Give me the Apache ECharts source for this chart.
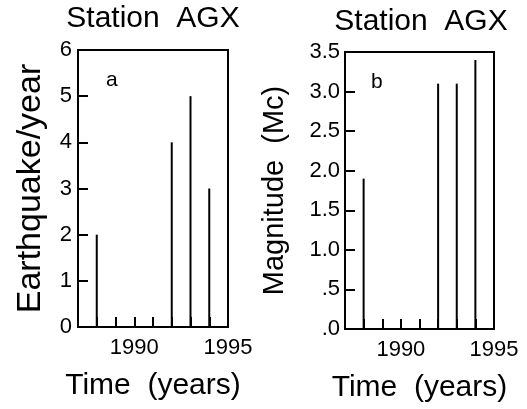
<!DOCTYPE html>
<html lang="en">
<head>
    <meta charset="UTF-8">
    <title>Station AGX</title>
    <script src="https://cdn.jsdelivr.net/npm/echarts@6/dist/echarts.min.js"></script>
    <style type="text/css">
        *{margin: 0;padding: 0;border: none}
        html,body{width: 100%;height: 100%;overflow: hidden;background: #fff}
        #main{width: 527px;height: 409px}
    </style>
</head>
<body>
<div id="main"></div>
<script type="text/javascript">
    // data
    var years = [1988, 1992, 1993, 1994];
    var quakesPerYear = [2, 4, 5, 3];
    var magnitudes = [1.9, 3.1, 3.1, 3.4];
    var yearLabels = [1990, 1995];
    var magLabels = ['.0', '.5', '1.0', '1.5', '2.0', '2.5', '3.0', '3.5'];

    var font = 'Liberation Sans';
    var ink = '#000';

    function pairs(xs, ys) {
        var out = [];
        for (var i = 0; i < xs.length; i++) out.push([xs[i], ys[i]]);
        return out;
    }

    function xAxisFor(gridIndex) {
        return {
            gridIndex: gridIndex,
            type: 'value',
            min: 1987,
            max: 1995,
            interval: 1,
            name: 'Time  (years)',
            nameLocation: 'middle',
            nameGap: 44,
            nameTextStyle: {fontFamily: font, fontSize: 30, color: ink},
            splitLine: {show: false},
            axisLine: {lineStyle: {color: ink, width: 2}},
            axisTick: {inside: true, length: 10, lineStyle: {color: ink, width: 2}},
            axisLabel: {
                margin: 10,
                fontFamily: font, fontSize: 22, color: ink,
                formatter: function (v) { return yearLabels.indexOf(v) >= 0 ? String(v) : ''; }
            }
        };
    }

    var chart = echarts.init(document.getElementById('main'));
    chart.setOption({
        animation: false,
        backgroundColor: '#fff',
        title: [
            {text: 'Station  AGX', left: 153, top: 4, textAlign: 'center', padding: 0,
                textStyle: {fontFamily: font, fontSize: 30, fontWeight: 'normal', color: ink}},
            {text: 'Station  AGX', left: 421, top: 7, textAlign: 'center', padding: 0,
                textStyle: {fontFamily: font, fontSize: 30, fontWeight: 'normal', color: ink}},
            {text: 'a', left: 106, top: 70, padding: 0,
                textStyle: {fontFamily: font, fontSize: 21, fontWeight: 'normal', color: ink}},
            {text: 'b', left: 371, top: 72, padding: 0,
                textStyle: {fontFamily: font, fontSize: 21, fontWeight: 'normal', color: ink}}
        ],
        grid: [
            {left: 78, top: 50, width: 150, height: 277, show: true, borderColor: ink, borderWidth: 2},
            {left: 345, top: 52, width: 149, height: 277, show: true, borderColor: ink, borderWidth: 2}
        ],
        xAxis: [xAxisFor(0), xAxisFor(1)],
        yAxis: [
            {
                gridIndex: 0, type: 'value', min: 0, max: 6, interval: 1,
                name: 'Earthquake/year', nameLocation: 'middle', nameGap: 30,
                nameTextStyle: {fontFamily: font, fontSize: 34, color: ink},
                splitLine: {show: false},
                axisLine: {lineStyle: {color: ink, width: 2}},
                axisTick: {inside: true, length: 10, lineStyle: {color: ink, width: 2}},
                axisLabel: {margin: 6, fontFamily: font, fontSize: 22, color: ink}
            },
            {
                gridIndex: 1, type: 'value', min: 0, max: 3.5, interval: 0.5,
                name: 'Magnitude  (Mc)', nameLocation: 'middle', nameGap: 56,
                nameTextStyle: {fontFamily: font, fontSize: 29, color: ink},
                splitLine: {show: false},
                axisLine: {lineStyle: {color: ink, width: 2}},
                axisTick: {inside: true, length: 10, lineStyle: {color: ink, width: 2}},
                axisLabel: {
                    margin: 5, fontFamily: font, fontSize: 22, color: ink,
                    formatter: function (v) { return magLabels[Math.round(v * 2)]; }
                }
            }
        ],
        series: [
            {type: 'bar', xAxisIndex: 0, yAxisIndex: 0, barWidth: 2,
                itemStyle: {color: ink}, data: pairs(years, quakesPerYear)},
            {type: 'bar', xAxisIndex: 1, yAxisIndex: 1, barWidth: 2,
                itemStyle: {color: ink}, data: pairs(years, magnitudes)}
        ]
    });
</script>
</body>
</html>
